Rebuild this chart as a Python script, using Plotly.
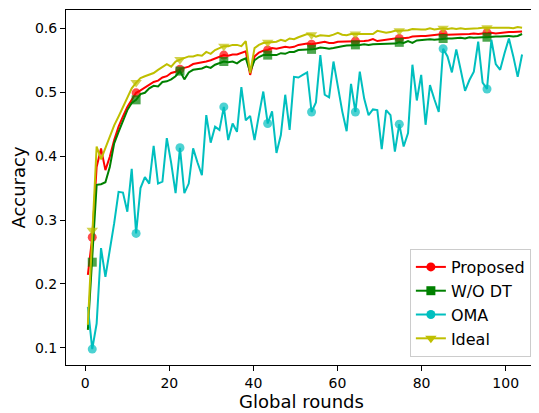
import numpy as np
import plotly.graph_objects as go

# x positions of the 100 samples (global rounds)
rounds = np.linspace(0.63, 103.9, 100)

proposed = [0.214, 0.273, 0.383, 0.412, 0.378, 0.399, 0.425, 0.446, 0.462, 0.477,
            0.488, 0.499, 0.503, 0.507, 0.511, 0.516, 0.518, 0.523, 0.525, 0.530,
            0.532, 0.536, 0.538, 0.540, 0.544, 0.545, 0.547, 0.548, 0.550, 0.553,
            0.556, 0.558, 0.557, 0.559, 0.559, 0.562, 0.564, 0.527, 0.556, 0.562,
            0.565, 0.566, 0.569, 0.568, 0.569, 0.571, 0.570, 0.571, 0.574, 0.575,
            0.576, 0.575, 0.576, 0.577, 0.579, 0.577, 0.577, 0.579, 0.579, 0.580,
            0.580, 0.580, 0.579, 0.580, 0.581, 0.583, 0.580, 0.581, 0.583, 0.583,
            0.584, 0.584, 0.584, 0.585, 0.587, 0.588, 0.588, 0.588, 0.589, 0.590,
            0.590, 0.591, 0.590, 0.590, 0.591, 0.591, 0.590, 0.591, 0.592, 0.591,
            0.592, 0.593, 0.593, 0.592, 0.593, 0.593, 0.594, 0.594, 0.594, 0.595]

wo_dt = [0.128, 0.234, 0.355, 0.356, 0.359, 0.383, 0.420, 0.438, 0.456, 0.472,
         0.483, 0.488, 0.497, 0.499, 0.506, 0.510, 0.509, 0.516, 0.517, 0.520,
         0.525, 0.533, 0.520, 0.531, 0.535, 0.536, 0.537, 0.540, 0.538, 0.543,
         0.545, 0.548, 0.547, 0.548, 0.545, 0.550, 0.553, 0.532, 0.550, 0.555,
         0.558, 0.558, 0.559, 0.558, 0.561, 0.560, 0.563, 0.563, 0.566, 0.566,
         0.567, 0.567, 0.568, 0.570, 0.569, 0.568, 0.569, 0.571, 0.572, 0.573,
         0.573, 0.574, 0.574, 0.575, 0.574, 0.575, 0.575, 0.576, 0.575, 0.576,
         0.576, 0.578, 0.577, 0.580, 0.577, 0.581, 0.582, 0.582, 0.583, 0.582,
         0.583, 0.584, 0.584, 0.584, 0.585, 0.585, 0.584, 0.586, 0.585, 0.586,
         0.586, 0.586, 0.587, 0.587, 0.587, 0.588, 0.588, 0.587, 0.588, 0.591]

oma = [0.164, 0.098, 0.138, 0.256, 0.211, 0.250, 0.295, 0.344, 0.343, 0.313,
       0.380, 0.279, 0.350, 0.367, 0.357, 0.416, 0.357, 0.360, 0.428, 0.389,
       0.342, 0.413, 0.342, 0.357, 0.412, 0.390, 0.370, 0.464, 0.421, 0.446,
       0.441, 0.477, 0.425, 0.451, 0.438, 0.508, 0.456, 0.463, 0.425, 0.464,
       0.501, 0.451, 0.470, 0.405, 0.433, 0.496, 0.441, 0.524, 0.523, 0.527,
       0.531, 0.469, 0.484, 0.558, 0.496, 0.492, 0.548, 0.509, 0.470, 0.439,
       0.513, 0.469, 0.532, 0.490, 0.464, 0.473, 0.472, 0.411, 0.472, 0.464,
       0.407, 0.450, 0.415, 0.436, 0.543, 0.487, 0.527, 0.449, 0.511, 0.489,
       0.469, 0.568, 0.556, 0.531, 0.567, 0.535, 0.502, 0.519, 0.532, 0.579,
       0.515, 0.505, 0.582, 0.544, 0.535, 0.561, 0.584, 0.556, 0.524, 0.559]

ideal = [0.136, 0.284, 0.415, 0.395, 0.412, 0.432, 0.448, 0.462, 0.477, 0.493,
         0.506, 0.515, 0.522, 0.525, 0.528, 0.530, 0.535, 0.540, 0.544, 0.540,
         0.548, 0.551, 0.553, 0.556, 0.556, 0.558, 0.557, 0.563, 0.560, 0.566,
         0.569, 0.572, 0.572, 0.574, 0.574, 0.572, 0.580, 0.530, 0.569, 0.574,
         0.577, 0.578, 0.578, 0.579, 0.582, 0.580, 0.584, 0.583, 0.586, 0.588,
         0.591, 0.590, 0.587, 0.589, 0.589, 0.588, 0.590, 0.593, 0.590, 0.589,
         0.591, 0.591, 0.591, 0.590, 0.591, 0.591, 0.596, 0.594, 0.593, 0.594,
         0.596, 0.596, 0.596, 0.597, 0.599, 0.598, 0.598, 0.598, 0.600, 0.598,
         0.599, 0.600, 0.599, 0.600, 0.599, 0.600, 0.599, 0.599, 0.600, 0.600,
         0.601, 0.601, 0.601, 0.602, 0.602, 0.602, 0.601, 0.600, 0.602, 0.601]

series = [
    ("Proposed", proposed, "#ff0000", "circle", 9),
    ("W/O DT", wo_dt, "#008000", "square", 9),
    ("OMA", oma, "#00bfbf", "circle", 9),
    ("Ideal", ideal, "#bfbf00", "triangle-down", 10),
]

x_ticks = [0, 20, 40, 60, 80, 100]
y_ticks = [0.1, 0.2, 0.3, 0.4, 0.5, 0.6]

fig = go.Figure()
for name, vals, color, symbol, msize in series:
    sizes = [msize if i % 10 == 1 else 0 for i in range(len(vals))]
    fig.add_trace(go.Scatter(
        x=rounds, y=vals, mode="lines+markers", name=name,
        line=dict(color=color, width=2),
        marker=dict(color=color, symbol=symbol, size=sizes, line=dict(width=0)),
        showlegend=False, legendgroup=name))
for name, vals, color, symbol, msize in series:
    fig.add_trace(go.Scatter(
        x=[None], y=[None], mode="lines+markers", name=name,
        line=dict(color=color, width=2),
        marker=dict(color=color, symbol=symbol, size=msize, line=dict(width=0)),
        showlegend=True, legendgroup=name))

axis_common = dict(showline=True, linecolor="black", linewidth=1, mirror=True,
                   ticks="outside", ticklen=5, tickwidth=1, tickcolor="black",
                   showgrid=False, zeroline=False, automargin=False,
                   tickfont=dict(family="DejaVu Sans", size=14, color="black"))

# the page body has an 8px margin, so the figure is 8px smaller and margins compensate
fig.update_layout(
    width=531, height=405,
    margin=dict(l=58, r=2, t=2, b=48, autoexpand=False),
    plot_bgcolor="white", paper_bgcolor="white",
    font=dict(family="DejaVu Sans", size=14, color="black"),
    xaxis=dict(range=[-4.57, 107.45], tickvals=x_ticks,
               title=dict(text="Global rounds", font=dict(size=18), standoff=1),
               **axis_common),
    yaxis=dict(range=[0.0731, 0.6286], tickvals=y_ticks, ticktext=[f"{v:.1f}" for v in y_ticks],
               title=dict(text="Accuracy", font=dict(size=18), standoff=9),
               **axis_common),
    legend=dict(x=0.987, y=0.0225, xanchor="right", yanchor="bottom",
                bgcolor="rgba(255,255,255,0.8)", bordercolor="#cccccc", borderwidth=1,
                font=dict(family="DejaVu Sans", size=16, color="black"),
                itemwidth=30, tracegroupgap=0),
)

fig.write_html("out.html")
